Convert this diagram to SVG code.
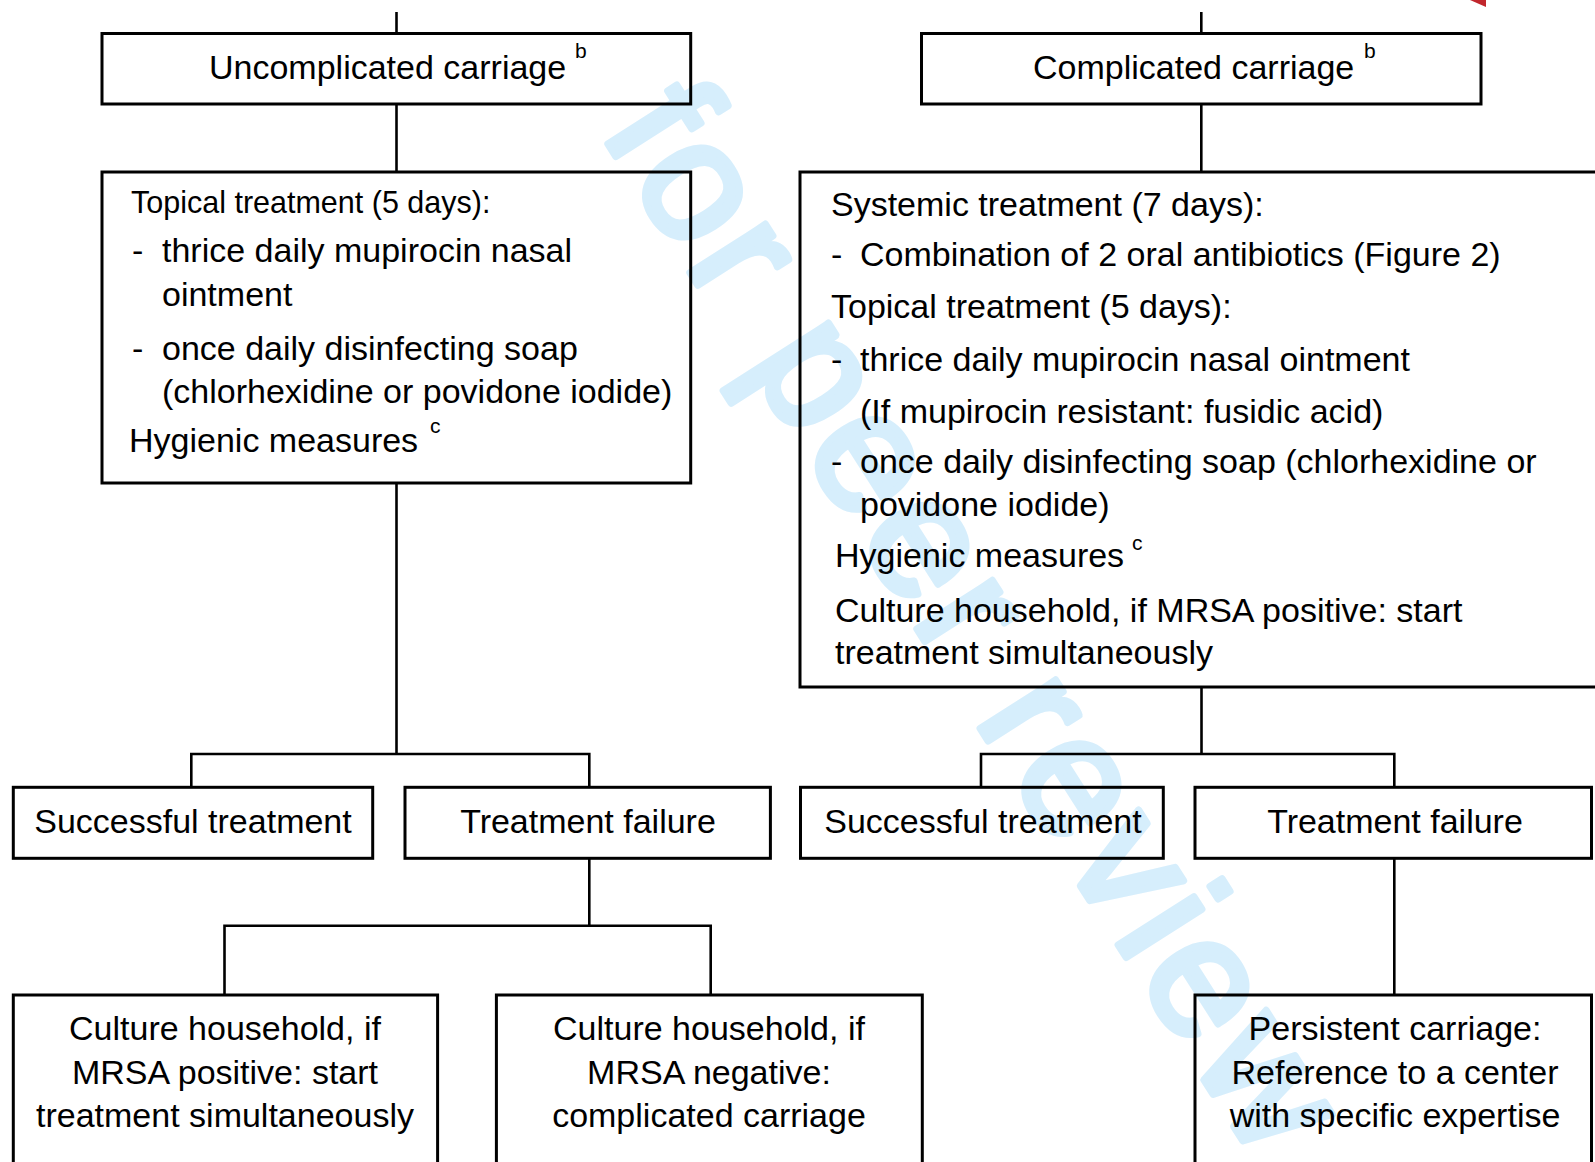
<svg xmlns="http://www.w3.org/2000/svg" width="1595" height="1162" viewBox="0 0 1595 1162">
<style>
.bg{fill:#fff}
.wm{font-family:"Liberation Sans",Arial,sans-serif;font-size:170px;letter-spacing:7px;fill:#d6eefc;stroke:#d6eefc;stroke-width:7;stroke-linejoin:round}
.box{fill:none;stroke:#000;stroke-width:3}
.ln{fill:none;stroke:#000;stroke-width:2.6}
.t{font-family:"Liberation Sans",Arial,sans-serif;font-size:34px;fill:#000}
.c{text-anchor:middle}
.sm{font-size:30.5px}
.sup{font-size:21px}
</style>
<rect class="bg" x="0" y="0" width="1595" height="1162"/>
<g id="watermark">
<text class="wm" transform="translate(599.8,131.3) rotate(57.5)">for peer review</text>
<polygon points="1470,0 1486,0 1486,7" fill="#c1272d"/>
</g>
<g id="connectors">
<path class="ln" d="M396.5 12 V33.5"/>
<path class="ln" d="M396.5 104 V172"/>
<path class="ln" d="M396.5 483 V754"/>
<path class="ln" d="M191.3 787 V754 H589.3 V787"/>
<path class="ln" d="M589.3 858 V925.7"/>
<path class="ln" d="M224.5 995 V925.7 H710.7 V995"/>
<path class="ln" d="M1201.3 12 V33.5"/>
<path class="ln" d="M1201.3 104 V172"/>
<path class="ln" d="M1201.5 687 V754"/>
<path class="ln" d="M981 787 V754 H1394.3 V787"/>
<path class="ln" d="M1394.3 858 V995"/>
</g>
<g id="uncomplicated">
<rect class="box" x="102" y="33.5" width="588.7" height="70.5"/>
<text class="t" x="209" y="79">Uncomplicated carriage</text>
<text class="t sup" x="575" y="58">b</text>
</g>
<g id="complicated">
<rect class="box" x="921.5" y="33.5" width="559.5" height="70.5"/>
<text class="t" x="1033" y="79">Complicated carriage</text>
<text class="t sup" x="1364" y="58">b</text>
</g>
<g id="topical">
<rect class="box" x="102" y="172" width="588.7" height="311"/>
<text class="t sm" x="131" y="212.5">Topical treatment (5 days):</text>
<text class="t" x="132" y="262">-</text>
<text class="t" x="162" y="262">thrice daily mupirocin nasal</text>
<text class="t" x="162" y="305.5">ointment</text>
<text class="t" x="132" y="360">-</text>
<text class="t" x="162" y="360">once daily disinfecting soap</text>
<text class="t" x="162" y="402.5">(chlorhexidine or povidone iodide)</text>
<text class="t" x="129" y="452">Hygienic measures</text>
<text class="t sup" x="430" y="433">c</text>
</g>
<g id="systemic">
<rect class="box" x="800" y="172" width="810" height="515"/>
<text class="t" x="831" y="215.7">Systemic treatment (7 days):</text>
<text class="t" x="831" y="265.6">-</text>
<text class="t" x="860" y="265.6">Combination of 2 oral antibiotics (Figure 2)</text>
<text class="t" x="831" y="318.3">Topical treatment (5 days):</text>
<text class="t" x="831" y="370.7">-</text>
<text class="t" x="860" y="370.7">thrice daily mupirocin nasal ointment</text>
<text class="t" x="860" y="422.7">(If mupirocin resistant: fusidic acid)</text>
<text class="t" x="831" y="473.3">-</text>
<text class="t" x="860" y="473.3">once daily disinfecting soap (chlorhexidine or</text>
<text class="t" x="860" y="516">povidone iodide)</text>
<text class="t" x="835" y="566.7">Hygienic measures</text>
<text class="t sup" x="1132" y="550">c</text>
<text class="t" x="835" y="621.7">Culture household, if MRSA positive: start</text>
<text class="t" x="835" y="664">treatment simultaneously</text>
</g>
<g id="success-left">
<rect class="box" x="13.3" y="787.3" width="359.4" height="71"/>
<text class="t c" x="193" y="833">Successful treatment</text>
</g>
<g id="failure-left">
<rect class="box" x="405" y="787.3" width="365.4" height="71"/>
<text class="t c" x="588" y="833">Treatment failure</text>
</g>
<g id="success-right">
<rect class="box" x="800.5" y="787.3" width="362.8" height="71"/>
<text class="t c" x="983" y="833">Successful treatment</text>
</g>
<g id="failure-right">
<rect class="box" x="1195" y="787.3" width="396.5" height="71"/>
<text class="t c" x="1395" y="833">Treatment failure</text>
</g>
<g id="culture-positive">
<rect class="box" x="13.3" y="995" width="424.3" height="185"/>
<text class="t c" x="225" y="1040">Culture household, if</text>
<text class="t c" x="225" y="1083.5">MRSA positive: start</text>
<text class="t c" x="225" y="1127">treatment simultaneously</text>
</g>
<g id="culture-negative">
<rect class="box" x="496.4" y="995" width="425.9" height="185"/>
<text class="t c" x="709" y="1040">Culture household, if</text>
<text class="t c" x="709" y="1083.5">MRSA negative:</text>
<text class="t c" x="709" y="1127">complicated carriage</text>
</g>
<g id="persistent">
<rect class="box" x="1195" y="995" width="396.5" height="185"/>
<text class="t c" x="1395" y="1040">Persistent carriage:</text>
<text class="t c" x="1395" y="1083.5">Reference to a center</text>
<text class="t c" x="1395" y="1127">with specific expertise</text>
</g>
</svg>
